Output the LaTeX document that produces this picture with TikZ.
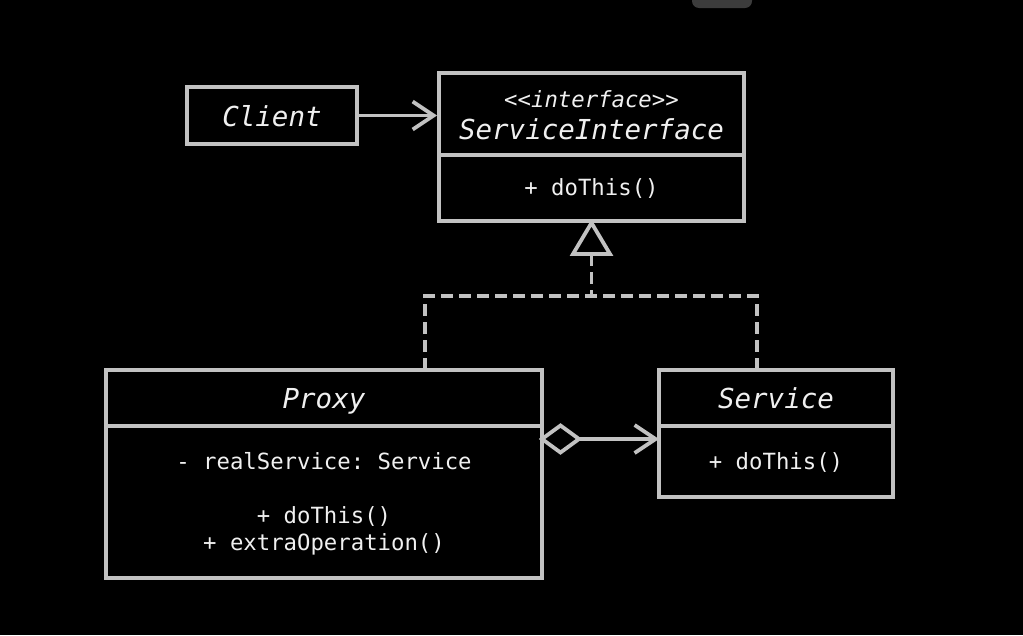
\documentclass[tikz,border=0pt]{standalone}
\usepackage{fontspec}
\setmonofont{DejaVu Sans Mono}
\usetikzlibrary{arrows.meta}
\definecolor{ln}{HTML}{C2C2C2}
\definecolor{tx}{HTML}{F0F0F0}
\definecolor{pill}{HTML}{3C3C3C}
\begin{document}
\begin{tikzpicture}[x=1pt,y=-1pt,
  box/.style={draw=ln, line width=3.8pt, inner sep=0pt, fill=black},
  big/.style={text=tx, inner sep=0pt, anchor=base, font=\ttfamily\itshape\fontsize{27.5}{30}\selectfont},
  small/.style={text=tx, inner sep=0pt, anchor=base, font=\ttfamily\fontsize{22.3}{26}\selectfont},
  smallit/.style={text=tx, inner sep=0pt, anchor=base, font=\ttfamily\itshape\fontsize{22.3}{26}\selectfont},
  conn/.style={draw=ln, line width=3.8pt},
  openhead/.style={-{Straight Barb[length=21pt,width=28pt]}},
  dashline/.style={conn, dash pattern=on 12pt off 6pt}]
\fill[black] (0,0) rectangle (1023,635);
\useasboundingbox (0,0) rectangle (1023,635);
\fill[pill, rounded corners=7pt] (692,-14) rectangle (752,8);
% Client
\node[box, minimum width=170pt, minimum height=57pt] (client) at (272,115.5) {};
\node[big] (clientt) at (272,126) {Client};
% ServiceInterface
\node[box, minimum width=305pt, minimum height=82pt] (sit) at (591.5,114) {};
\node[box, minimum width=305pt, minimum height=66pt] (sib) at (591.5,188) {};
\node[smallit] (sist) at (591.5,107) {<<interface>>};
\node[big] (sin) at (591.5,139) {ServiceInterface};
\node[small] (sim) at (591.5,195) {+ doThis()};
% Proxy
\node[box, minimum width=436pt, minimum height=56pt] (pt) at (324,398) {};
\node[box, minimum width=436pt, minimum height=152pt] (pb) at (324,502) {};
\node[big] (pn) at (324,408) {Proxy};
\node[small] (pf) at (324,469) {- realService: Service};
\node[small] (pm1) at (324,523) {+ doThis()};
\node[small] (pm2) at (324,550) {+ extraOperation()};
% Service
\node[box, minimum width=234pt, minimum height=56pt] (st) at (776,398) {};
\node[box, minimum width=234pt, minimum height=71pt] (sb) at (776,461.5) {};
\node[big] (sn) at (776,408) {Service};
\node[small] (sm) at (776,469) {+ doThis()};
% Client -> ServiceInterface
\draw[conn, openhead] (client.east) -- (client.east -| sit.west);
% realization
\coordinate (tb) at (591.5,254);
\coordinate (jy) at (591.5,296);
\coordinate (pa) at (425,370);
\coordinate (sa) at (757,370);
\draw[dashline] (tb) -- (jy);
\draw[dashline] (pa) |- (jy) -| (sa);
\draw[conn, fill=black, line join=miter] (sib.south) -- (tb -| 610,0) -- (tb -| 573,0) -- cycle;
% aggregation
\coordinate (dl) at (542,439);
\coordinate (dr) at (579,439);
\coordinate (ar) at (659,439);
\draw[conn, fill=black, line join=miter] (dl) -- (560.5,425.5) -- (dr) -- (560.5,452.5) -- cycle;
\draw[conn, openhead] (dr) -- (ar);
\end{tikzpicture}
\end{document}
